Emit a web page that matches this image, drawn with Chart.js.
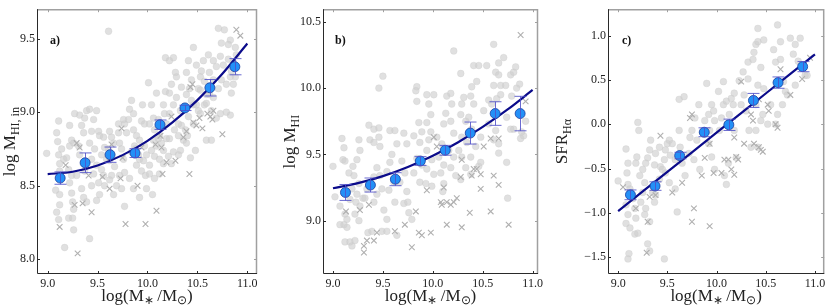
<!DOCTYPE html>
<html><head><meta charset="utf-8">
<script src="https://cdn.jsdelivr.net/npm/chart.js@4/dist/chart.umd.min.js"></script>
<style>
html,body{margin:0;padding:0;background:#fff;}
#wrap{position:relative;width:830px;height:308px;overflow:hidden;background:#fff;}
canvas{position:absolute;top:0;}
</style></head><body>
<div id="wrap">
<canvas id="ca" width="280" height="308" style="left:0px"></canvas>
<canvas id="cb" width="270" height="308" style="left:280px"></canvas>
<canvas id="cc" width="280" height="308" style="left:550px"></canvas>
</div>
<script>
// ---------- shared ----------
const binCenters = [9.125, 9.375, 9.625, 9.875, 10.125, 10.375, 10.625, 10.875];
const xTicks = [9.0, 9.5, 10.0, 10.5, 11.0];
const fitX = [9.0, 9.25, 9.5, 9.75, 10.0, 10.25, 10.5, 10.75, 11.0];
const panelLabels = ['a)', 'b)', 'c)'];

// ---------- panel a ----------
const aYTicks = [8.0, 8.5, 9.0, 9.5];
const aMean = [8.552, 8.656, 8.711, 8.722, 8.915, 9.029, 9.166, 9.309];
const aErr  = [0.042, 0.067, 0.052, 0.030, 0.032, 0.018, 0.056, 0.055];
const aFit  = [8.579, 8.595, 8.638, 8.708, 8.805, 8.930, 9.082, 9.261, 9.467];
const aCircles = [
[8.99,8.72],[9.11,8.94],[9.09,8.86],[9.11,8.71],[9.12,8.65],[9.12,8.60],[9.08,8.47],[9.12,8.44],[9.12,8.37],[9.09,8.32],[9.11,8.27],[9.17,8.08],[9.16,8.68],[9.19,8.69],[9.10,8.80],[9.14,8.75],
[9.22,8.91],[9.24,8.81],[9.22,8.77],[9.26,8.79],[9.21,8.61],[9.24,8.57],[9.22,8.52],[9.24,8.45],[9.25,8.39],[9.26,8.34],[9.21,8.28],[9.25,8.28],[9.26,8.20],[9.32,8.98],[9.34,8.91],[9.36,8.86],[9.31,8.77],[9.32,8.71],[9.37,8.60],[9.29,8.57],[9.34,8.48],[9.36,8.42],[9.39,8.39],[9.27,8.99],[9.39,9.01],[9.37,8.96],
[9.42,9.02],[9.49,9.01],[9.46,8.95],[9.44,8.87],[9.51,8.87],[9.52,8.84],[9.42,8.79],[9.47,8.75],[9.54,8.71],[9.44,8.68],[9.49,8.64],[9.46,8.58],[9.51,8.52],[9.44,8.50],[9.52,8.44],[9.49,8.40],[9.42,8.14],[9.56,8.83],[9.57,8.76],[9.59,8.68],[9.54,8.61],[9.56,8.57],[9.57,8.50],
[9.61,9.55],[9.62,8.87],[9.64,8.83],[9.66,8.79],[9.61,8.75],[9.62,8.67],[9.67,8.63],[9.64,8.57],[9.62,8.54],[9.69,8.50],[9.66,8.44],[9.71,8.86],[9.72,8.79],[9.74,8.75],[9.76,8.68],[9.77,8.59],[9.79,8.86],[9.77,8.92],[9.71,8.92],[9.76,8.95],[9.72,8.57],[9.77,8.36],[9.74,8.48],
[9.84,9.08],[9.86,8.99],[9.82,9.02],[9.81,8.95],[9.86,8.88],[9.89,8.84],[9.92,8.81],[9.87,8.77],[9.84,8.73],[9.91,8.71],[9.92,8.68],[9.89,8.64],[9.94,8.60],[9.82,8.55],[9.86,8.48],[9.92,8.42],[9.97,8.77],[9.99,8.71],[9.96,8.67],[9.94,8.94],[9.97,8.92],[9.95,9.05],[10.01,9.20],[9.98,8.57],[9.99,8.48],[9.88,8.75],
[10.09,9.13],[10.04,9.05],[10.06,8.96],[10.11,8.95],[10.02,8.92],[10.07,8.88],[10.12,8.84],[10.06,8.81],[10.09,8.77],[10.14,8.79],[10.04,8.74],[10.07,8.70],[10.12,8.68],[10.16,8.65],[10.02,8.64],[10.18,9.14],[10.16,9.05],[10.17,8.99],[10.19,8.92],[10.11,8.82],[10.07,8.55],[10.02,8.58],[10.12,8.58],[10.16,8.74],[10.19,8.82],[10.05,8.44],
[10.18,9.37],[10.26,9.37],[10.22,9.35],[10.28,9.27],[10.29,9.24],[10.24,9.19],[10.22,9.13],[10.29,9.10],[10.26,9.05],[10.33,9.01],[10.22,8.99],[10.34,8.91],[10.27,8.88],[10.31,8.84],[10.22,8.82],[10.26,8.73],[10.33,8.74],[10.21,8.70],[10.38,8.88],[10.36,8.81],[10.39,8.79],[10.31,8.71],[10.24,8.65],[10.31,8.92],[10.34,9.17],[10.39,9.27],
[10.46,9.44],[10.41,9.35],[10.44,9.22],[10.42,9.16],[10.49,9.32],[10.51,9.16],[10.39,9.12],[10.44,9.08],[10.46,9.05],[10.51,9.01],[10.53,8.99],[10.57,9.05],[10.41,8.97],[10.46,8.92],[10.40,8.84],[10.48,8.74],[10.43,8.69],[10.54,9.28],[10.56,9.35],[10.53,9.24],[10.57,9.21],[10.59,9.12],[10.53,9.15],[10.49,9.05],
[10.71,9.57],[10.61,9.39],[10.66,9.35],[10.69,9.31],[10.62,9.27],[10.73,9.38],[10.74,9.47],[10.66,9.22],[10.71,9.16],[10.62,9.12],[10.66,9.10],[10.74,9.22],[10.59,9.06],[10.64,9.01],[10.69,8.96],[10.59,8.81],[10.64,8.81],[10.76,9.32],[10.79,9.19],[10.73,8.99],
[10.77,9.56],[10.83,9.49],[10.88,9.44],[10.81,9.36],[10.84,9.28],[10.86,9.19],[10.83,9.24],[10.81,9.46],[10.89,9.39],[10.86,9.34],[10.88,9.24],[10.84,9.13],[10.83,8.98],[10.79,9.00]
];
const aCrosses = [
[9.12,8.22],[9.30,8.04],[9.35,8.38],[9.27,8.37],[9.44,8.32],[9.78,8.24],[9.98,8.24],[10.09,8.33],[9.90,8.50],[9.62,8.48],[9.73,8.55],[10.15,8.58],[10.42,8.58],[10.19,8.66],[10.28,8.67],[9.55,8.56],[9.41,8.57],[9.18,8.64],[9.75,8.69],[10.75,8.85],[10.43,9.17],[10.46,8.93],[10.49,8.91],[10.52,8.96],[10.55,8.89],[10.63,8.97],[10.66,9.01],[10.65,8.95],[10.36,8.83],[10.39,8.87],[10.24,8.97],[10.13,8.84],[9.74,8.89],[9.64,8.78],[9.29,8.79],[9.32,8.76],[10.08,8.78],[10.14,8.76],[10.89,9.56],[10.93,9.52],[10.45,9.19],[10.60,8.99],[9.94,8.76]
];

// ---------- panel b ----------
const bYTicks = [9.0, 9.5, 10.0, 10.5];
const bMean = [9.213, 9.269, 9.313, 9.450, 9.531, 9.661, 9.808, 9.808];
const bErr  = [0.060, 0.053, 0.049, 0.033, 0.037, 0.083, 0.089, 0.130];
const bFit  = [9.245, 9.283, 9.336, 9.405, 9.490, 9.590, 9.707, 9.839, 9.986];
const bCircles = [
[9.00,9.41],[9.09,9.62],[9.11,9.55],[9.10,9.46],[9.12,9.45],[9.02,9.18],[9.07,9.11],[9.12,9.05],[9.14,9.01],[9.11,8.97],[9.07,8.97],[9.14,8.95],[9.12,8.84],[9.17,8.84],[9.19,8.81],[9.22,8.85],[9.17,9.16],[9.19,9.24],[9.16,9.36],[9.20,9.41],
[9.24,9.46],[9.27,9.53],[9.26,9.61],[9.21,9.34],[9.26,9.28],[9.24,9.20],[9.23,9.14],[9.27,9.11],[9.22,9.05],[9.26,9.00],[9.30,9.17],[9.34,9.24],[9.32,9.17],[9.35,8.91],[9.39,8.92],[9.36,9.72],[9.41,9.69],[9.46,9.70],[9.37,9.61],[9.41,9.59],
[9.46,9.63],[9.47,9.56],[9.44,9.40],[9.47,9.34],[9.41,9.33],[9.49,9.24],[9.44,9.20],[9.41,9.14],[9.51,9.08],[9.54,9.01],[9.49,8.92],[9.54,8.92],[9.46,10.00],[9.50,10.09],[9.57,9.68],[9.62,9.68],[9.64,9.58],[9.59,9.50],[9.57,9.44],[9.54,9.37],
[9.61,9.29],[9.56,9.23],[9.62,9.14],[9.64,8.89],[9.67,9.29],[9.71,9.66],[9.74,9.58],[9.69,9.45],[9.72,9.36],[9.74,9.22],[9.71,9.13],[9.76,9.06],[9.79,9.01],[9.75,9.14],[9.84,10.01],[9.83,9.98],[9.84,9.90],[9.86,9.74],[9.89,9.67],[9.81,9.64],
[9.87,9.59],[9.84,9.47],[9.89,9.42],[9.81,9.36],[9.87,9.29],[9.94,9.95],[10.01,9.95],[9.96,9.88],[9.98,9.80],[9.94,9.74],[9.98,9.67],[9.96,9.61],[9.94,9.53],[9.99,9.46],[9.94,9.39],[10.01,9.35],[9.93,9.28],[9.99,9.26],[10.04,9.63],[10.09,9.58],
[10.06,9.48],[10.11,9.42],[10.08,9.36],[10.11,9.28],[10.10,9.22],[10.13,9.81],[10.11,9.73],[10.14,9.94],[10.18,9.96],[10.21,10.28],[10.19,9.88],[10.18,9.75],[10.21,9.66],[10.16,9.53],[10.21,9.48],[10.18,9.40],[10.23,9.34],[10.28,10.11],[10.29,9.88],[10.31,9.93],
[10.28,9.80],[10.33,9.75],[10.29,9.63],[10.26,9.53],[10.29,9.48],[10.33,9.40],[10.28,9.31],[10.39,10.01],[10.38,9.94],[10.41,9.88],[10.36,9.78],[10.41,10.17],[10.46,10.17],[10.44,10.05],[10.39,9.69],[10.34,9.59],[10.43,9.56],[10.38,9.48],[10.46,9.41],[10.48,9.44],
[10.38,9.35],[10.48,9.63],[10.51,9.83],[10.54,10.17],[10.56,9.91],[10.59,9.88],[10.61,10.33],[10.63,10.12],[10.66,10.19],[10.61,10.02],[10.68,10.02],[10.64,9.92],[10.68,9.95],[10.73,10.02],[10.71,10.23],[10.66,10.10],[10.56,9.73],[10.61,9.61],[10.66,9.58],[10.66,9.51],
[10.63,9.68],[10.75,9.17],[10.78,10.10],[10.81,10.12],[10.83,10.16],[10.84,10.00],[10.79,9.94],[10.81,9.69],[10.87,10.03],[10.88,9.62],[10.91,9.64],[10.93,9.75],[10.89,9.67],[10.74,9.44],[10.74,9.78],[10.78,9.69]
];
const bCrosses = [
[9.13,9.07],[9.31,8.81],[9.31,8.76],[9.34,8.85],[9.36,9.12],[9.27,9.08],[9.41,8.85],[9.44,8.91],[9.62,8.92],[9.72,8.97],[9.79,8.80],[9.83,9.07],[9.86,8.91],[9.89,8.89],[9.94,9.23],[9.98,8.91],[10.01,9.63],[10.04,9.56],[10.08,9.14],[10.09,9.12],
[10.11,9.25],[10.14,9.14],[10.14,8.97],[10.18,9.12],[10.21,9.14],[10.24,9.17],[10.28,9.33],[10.29,9.46],[10.29,8.95],[10.37,9.06],[10.39,9.34],[10.41,9.39],[10.44,9.39],[10.48,9.24],[10.48,9.35],[10.51,9.56],[10.58,9.62],[10.58,9.07],[10.61,9.34],[10.66,9.27],
[10.66,9.62],[10.76,8.97],[10.88,10.40],[10.93,9.90]
];

// ---------- panel c ----------
const cYTicks = [-1.5, -1.0, -0.5, 0.0, 0.5, 1.0];
const cMean = [-0.797, -0.698, -0.354, -0.091, -0.007, 0.268, 0.469, 0.649];
const cErr  = [0.055, 0.048, 0.037, 0.050, 0.064, 0.079, 0.064, 0.057];
const cFit  = [-0.980, -0.759, -0.538, -0.317, -0.096, 0.125, 0.346, 0.567, 0.788];
const cCircles = [
[9.00,-0.64],[9.08,-0.28],[9.10,-0.44],[9.09,-0.55],[9.10,-0.68],[9.12,-0.73],[9.08,-0.91],[9.10,-1.02],[9.08,-1.12],[9.12,-1.17],[9.11,-1.46],[9.10,-1.52],[9.15,-0.84],[9.17,-0.95],[9.18,-1.06],[9.17,-1.24],[9.20,-1.23],[9.19,-0.37],[9.21,-0.07],[9.20,0.02],
[9.18,-0.44],[9.22,-0.58],[9.25,-0.51],[9.27,-0.66],[9.25,-0.77],[9.23,-0.88],[9.28,-0.95],[9.27,-1.02],[9.32,-1.10],[9.30,-1.35],[9.32,-1.43],[9.30,-0.38],[9.32,-0.29],[9.33,-0.18],[9.28,-0.44],[9.35,-0.77],[9.38,-0.80],[9.37,-0.88],[9.42,-0.62],[9.43,-0.48],
[9.37,-0.46],[9.38,-0.33],[9.42,-0.26],[9.47,-0.40],[9.45,-0.51],[9.48,-0.29],[9.50,-0.22],[9.52,-0.18],[9.55,-0.22],[9.53,-0.35],[9.48,-0.55],[9.52,-0.66],[9.58,-0.73],[9.60,-0.99],[9.47,-1.52],[9.62,0.28],[9.67,0.31],[9.62,-0.07],[9.63,-0.26],[9.58,-0.40],
[9.65,-0.44],[9.68,-0.58],[9.72,-0.33],[9.73,-0.15],[9.75,-0.07],[9.78,0.07],[9.82,0.22],[9.80,-0.18],[9.77,-0.40],[9.83,-0.51],[9.90,0.46],[9.92,0.11],[9.88,0.04],[9.93,-0.07],[9.92,-0.22],[9.95,0.22],[9.97,0.15],[9.98,0.04],[9.95,-0.37],[9.98,-0.51],
[10.03,-0.07],[10.05,0.07],[10.07,0.48],[10.02,0.37],[10.07,0.22],[10.10,0.26],[10.10,-0.68],[10.08,-0.58],[10.12,-0.44],[10.13,0.11],[10.15,0.29],[10.18,0.35],[10.17,0.22],[10.18,-0.07],[10.20,-0.38],[10.23,0.49],[10.27,0.59],[10.28,0.33],[10.25,0.22],[10.30,0.15],
[10.32,0.51],[10.33,-0.07],[10.35,-0.26],[10.32,0.70],[10.37,0.73],[10.38,0.81],[10.40,0.90],[10.42,1.08],[10.42,0.93],[10.45,0.64],[10.42,0.44],[10.40,0.22],[10.47,0.11],[10.45,0.04],[10.42,-0.26],[10.40,-0.07],[10.48,0.95],[10.52,0.00],[10.55,0.22],[10.58,0.84],
[10.60,0.70],[10.62,1.12],[10.65,0.93],[10.65,0.73],[10.68,0.48],[10.70,0.37],[10.60,0.00],[10.62,0.11],[10.67,0.22],[10.75,0.97],[10.80,0.90],[10.78,0.79],[10.85,0.97],[10.83,0.71],[10.80,0.44],[10.88,0.64],[10.90,0.55],[10.92,0.55],[10.72,0.33],[10.48,0.40]
];
const cCrosses = [
[9.05,-0.71],[9.12,-0.77],[9.18,-0.95],[9.30,-1.10],[9.29,-1.45],[9.32,-0.82],[9.38,-0.80],[9.43,-0.13],[9.55,-0.77],[9.65,-0.66],[9.75,0.11],[9.73,0.07],[9.77,-0.95],[9.75,-1.10],[9.85,-0.58],[9.88,-0.38],[9.93,-0.22],[9.97,-0.55],[9.93,-1.15],[10.05,-0.55],
[10.08,-0.40],[10.12,-0.40],[10.15,-0.51],[10.18,-0.15],[10.20,-0.37],[10.18,-0.57],[10.25,0.48],[10.28,-0.22],[10.35,0.11],[10.37,0.04],[10.38,-0.22],[10.43,-0.26],[10.45,-0.29],[10.47,-0.31],[10.52,0.22],[10.53,0.15],[10.60,0.00],[10.62,-0.04],[10.65,0.62],[10.75,0.33],
[10.87,0.51],[10.95,0.75],[10.22,-0.40],[10.43,0.28]
];

// ---------- drawing helpers ----------
const SERIF = "'Liberation Serif', serif";
Chart.defaults.font.family = SERIF;
const fmt = v => (v < 0 ? '\u2212' : '') + Math.abs(v).toFixed(1);

function measureParts(ctx, parts) {
  let w = 0;
  parts.forEach(p => { ctx.font = p.size + 'px ' + SERIF; w += ctx.measureText(p.t).width; });
  return w;
}
function drawParts(ctx, parts, cx, cy) {
  const w = measureParts(ctx, parts);
  let x = cx - w / 2;
  ctx.textBaseline = 'alphabetic';
  ctx.textAlign = 'left';
  parts.forEach(p => {
    ctx.font = p.size + 'px ' + SERIF;
    ctx.fillText(p.t, x, cy + (p.dy || 0));
    x += ctx.measureText(p.t).width;
  });
}

const xTitleParts = [
  {t: 'log(M', size: 17}, {t: '\u2217', size: 12, dy: 3}, {t: '\u2009/M', size: 17}, {t: '\u2299', size: 12, dy: 3}, {t: ')', size: 17}
];

const panelPlugin = {
  id: 'panel',
  afterDatasetsDraw(chart, args, o) {
    const ctx = chart.ctx, xs = chart.scales.x, ys = chart.scales.y;
    ctx.save();
    ctx.strokeStyle = 'rgba(80,80,200,0.85)';
    ctx.lineWidth = 1;
    o.mean.forEach((m, i) => {
      const px = Math.round(xs.getPixelForValue(binCenters[i])) + 0.5;
      const y1 = ys.getPixelForValue(m - o.err[i]);
      const y2 = ys.getPixelForValue(m + o.err[i]);
      ctx.beginPath();
      ctx.moveTo(px, y1); ctx.lineTo(px, y2);
      ctx.moveTo(px - 6, y1); ctx.lineTo(px + 6, y1);
      ctx.moveTo(px - 6, y2); ctx.lineTo(px + 6, y2);
      ctx.stroke();
    });
    ctx.restore();
  },
  afterDraw(chart, args, o) {
    const ctx = chart.ctx, xs = chart.scales.x, ys = chart.scales.y;
    const {left, right, top, bottom} = chart.chartArea;
    ctx.save();
    ctx.strokeStyle = '#a0a0a0'; ctx.lineWidth = 1.5;
    ctx.beginPath();
    ctx.moveTo(left, top + 0.5); ctx.lineTo(right - 0.5, top + 0.5); ctx.lineTo(right - 0.5, bottom);
    ctx.stroke();
    ctx.lineWidth = 1;
    ctx.beginPath();
    xTicks.forEach(v => { const p = Math.round(xs.getPixelForValue(v)) + 0.5; ctx.moveTo(p, top); ctx.lineTo(p, top + 3); });
    o.yTicks.forEach(v => { const p = Math.round(ys.getPixelForValue(v)) + 0.5; ctx.moveTo(right, p); ctx.lineTo(right - 3, p); });
    ctx.stroke();
    ctx.strokeStyle = '#2a2a2a'; ctx.lineWidth = 1;
    ctx.beginPath();
    ctx.moveTo(left + 0.5, top); ctx.lineTo(left + 0.5, bottom - 0.5); ctx.lineTo(right, bottom - 0.5);
    ctx.stroke();
    ctx.beginPath();
    xTicks.forEach(v => { const p = Math.round(xs.getPixelForValue(v)) + 0.5; ctx.moveTo(p, bottom); ctx.lineTo(p, bottom - 3); });
    o.yTicks.forEach(v => { const p = Math.round(ys.getPixelForValue(v)) + 0.5; ctx.moveTo(left, p); ctx.lineTo(left + 3, p); });
    ctx.stroke();
    ctx.fillStyle = '#111';
    ctx.font = 'bold 12px ' + SERIF;
    ctx.textAlign = 'left'; ctx.textBaseline = 'alphabetic';
    ctx.fillText(o.label, left + o.labelDx, top + 35);
    ctx.fillStyle = '#222';
    drawParts(ctx, xTitleParts, (left + right) / 2, 301);
    ctx.save();
    ctx.translate(o.yTitleX, (top + bottom) / 2);
    ctx.rotate(-Math.PI / 2);
    drawParts(ctx, o.yTitleParts, 0, 0);
    ctx.restore();
    ctx.restore();
  }
};

function makeChart(id, c) {
  const pts = arr => arr.map(p => ({x: p[0], y: p[1]}));
  return new Chart(document.getElementById(id), {
    type: 'scatter',
    data: { datasets: [
      { data: binCenters.map((x, i) => ({x, y: c.mean[i]})), pointRadius: 5, pointHoverRadius: 5,
        backgroundColor: '#2390f7', borderColor: '#1a3c9c', borderWidth: 0.8, order: 0 },
      { type: 'line', data: fitX.map((x, i) => ({x, y: c.fit[i]})), borderColor: '#0b0b8a', borderWidth: 2.2,
        pointRadius: 0, cubicInterpolationMode: 'monotone', fill: false, order: 1 },
      { data: pts(c.crosses), pointStyle: 'crossRot', pointRadius: 4, borderColor: '#b0b0b0',
        backgroundColor: '#b0b0b0', borderWidth: 1.1, order: 2 },
      { data: pts(c.circles), pointRadius: 3.4, backgroundColor: 'rgba(208,208,208,0.65)',
        borderColor: 'rgba(200,200,200,0.6)', borderWidth: 0.5, order: 3 }
    ]},
    options: {
      responsive: false, animation: false, devicePixelRatio: 1,
      layout: { padding: { left: c.padL, right: c.padR, top: 2, bottom: 0 } },
      plugins: { legend: { display: false }, tooltip: { enabled: false },
        panel: { mean: c.mean, err: c.err, yTicks: c.yTicks, label: c.label, labelDx: c.labelDx,
                 yTitleX: c.yTitleX, yTitleParts: c.yTitleParts } },
      events: [],
      scales: {
        x: { type: 'linear', min: c.xMin, max: c.xMax,
             afterBuildTicks: s => { s.ticks = xTicks.map(v => ({value: v})); },
             afterFit: s => { s.height = 34; },
             ticks: { callback: v => fmt(v), font: { family: SERIF, size: 12 }, color: '#222', padding: 3, maxRotation: 0, autoSkip: false },
             grid: { display: false, drawTicks: false }, border: { display: false } },
        y: { type: 'linear', min: c.yMin, max: c.yMax,
             afterBuildTicks: s => { s.ticks = c.yTicks.map(v => ({value: v})); },
             afterFit: s => { s.width = 30; },
             ticks: { callback: v => fmt(v), font: { family: SERIF, size: 12 }, color: '#222', padding: 2, autoSkip: false },
             grid: { display: false, drawTicks: false }, border: { display: false } }
      }
    },
    plugins: [panelPlugin]
  });
}

makeChart('ca', { mean: aMean, err: aErr, fit: aFit, circles: aCircles, crosses: aCrosses, yTicks: aYTicks,
  xMin: 8.893, xMax: 11.097, yMin: 7.9, yMax: 9.7, padL: 7, padR: 23, label: panelLabels[0], labelDx: 13, yTitleX: 15,
  yTitleParts: [{t: 'log M', size: 17}, {t: 'HI, in', size: 12, dy: 4}] });
makeChart('cb', { mean: bMean, err: bErr, fit: bFit, circles: bCircles, crosses: bCrosses, yTicks: bYTicks,
  xMin: 8.9, xMax: 11.054, yMin: 8.598, yMax: 10.595, padL: 13, padR: 12, label: panelLabels[1], labelDx: 12, yTitleX: 15,
  yTitleParts: [{t: 'log M', size: 17}, {t: 'HI', size: 12, dy: 4}] });
makeChart('cc', { mean: cMean, err: cErr, fit: cFit, circles: cCircles, crosses: cCrosses, yTicks: cYTicks,
  xMin: 8.897, xMax: 11.094, yMin: -1.69, yMax: 1.297, padL: 28, padR: 2, label: panelLabels[2], labelDx: 14, yTitleX: 17,
  yTitleParts: [{t: 'SFR', size: 17}, {t: 'H\u03b1', size: 12, dy: 4}] });
</script>
</body></html>
